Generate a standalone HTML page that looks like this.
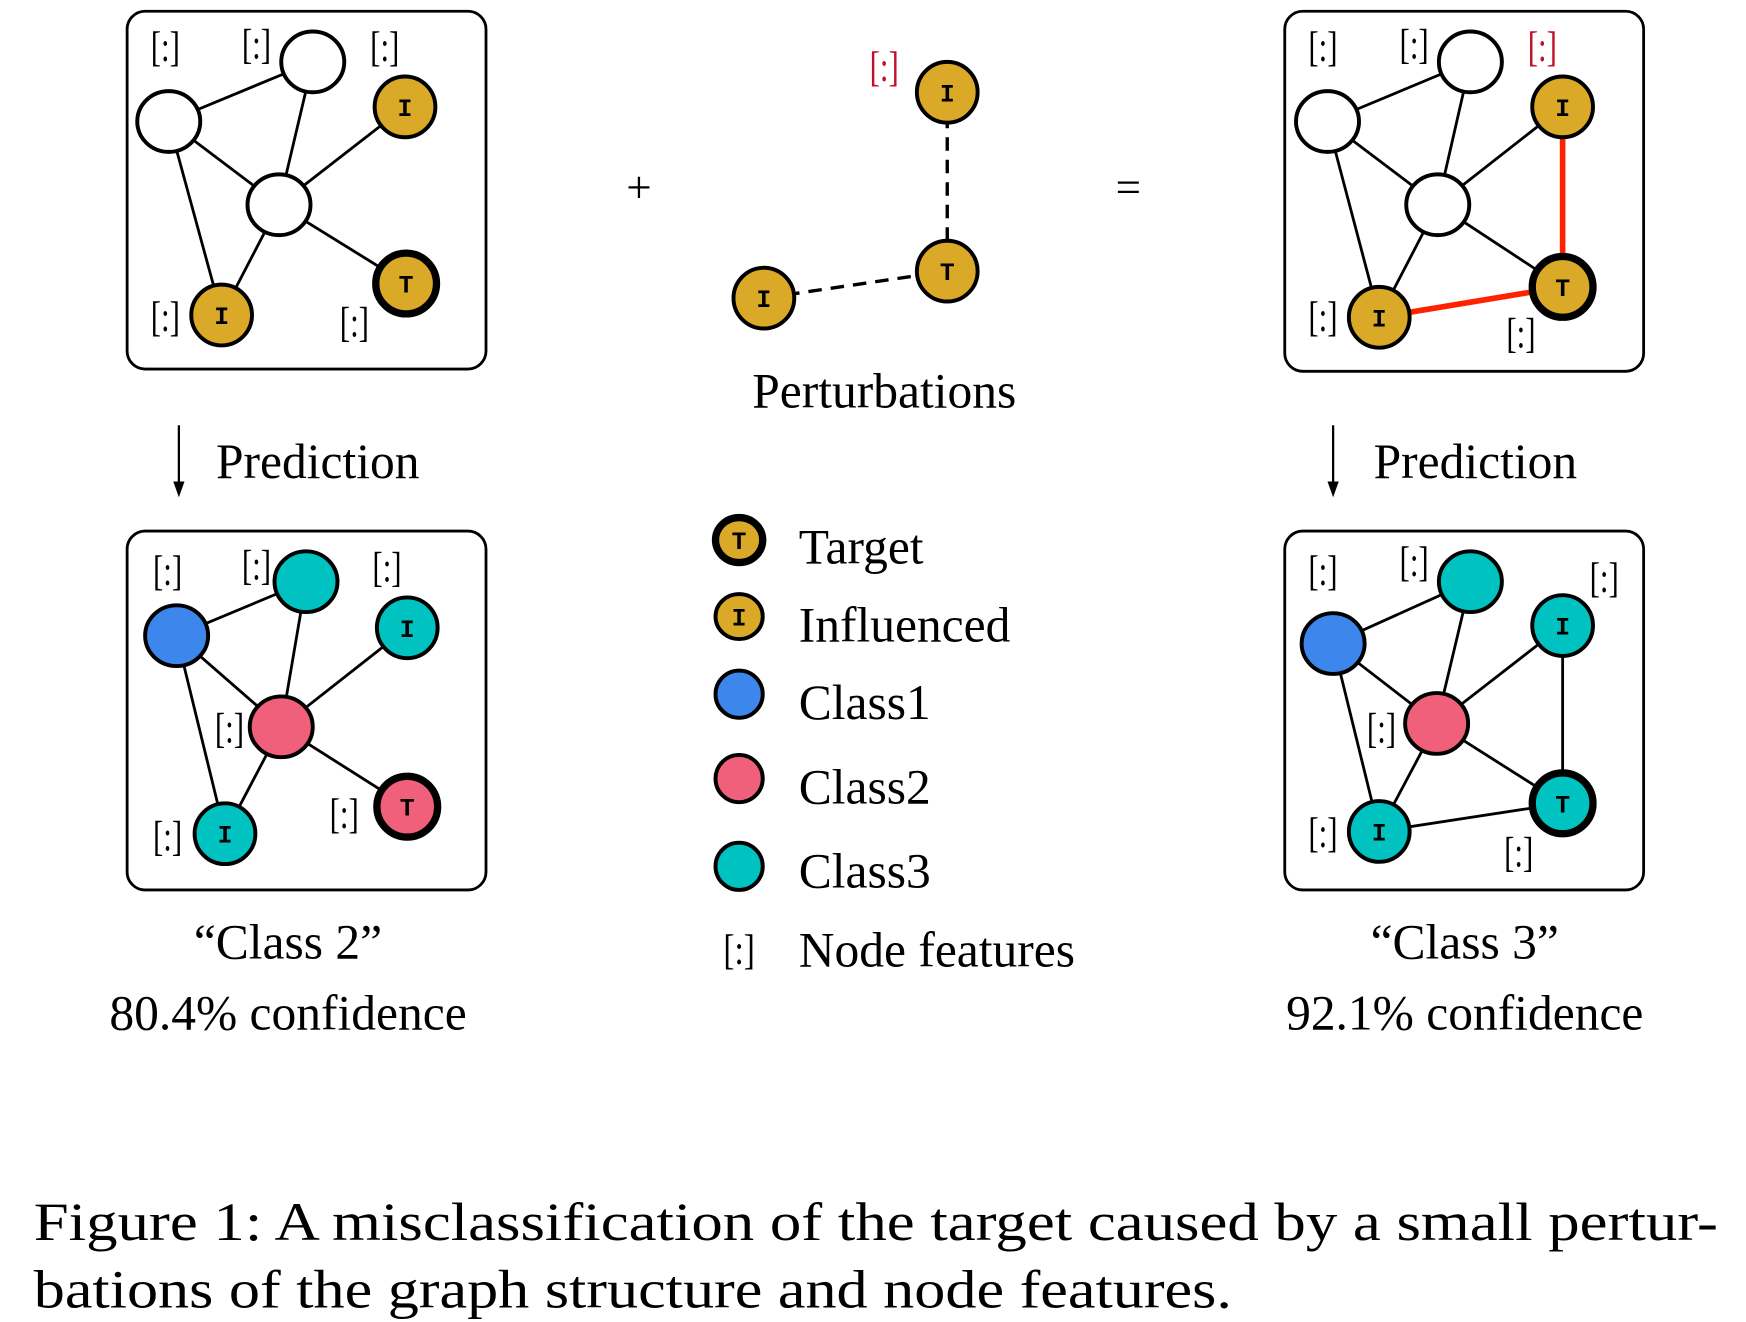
<!DOCTYPE html>
<html><head><meta charset="utf-8"><style>html,body{margin:0;padding:0;background:#fff}svg{display:block}</style></head><body>
<svg width="1746" height="1322" viewBox="0 0 1552 1175" preserveAspectRatio="none" xmlns="http://www.w3.org/2000/svg">
<defs>
<style>
.e{stroke:#000;stroke-width:2.5}
.n{stroke:#000;stroke-width:3.5}
.t{stroke:#000;stroke-width:6.5}
.lt{font-family:"Liberation Mono",monospace;font-weight:bold;font-size:22px;text-anchor:middle}
.br{font-family:"Liberation Serif",serif;font-size:38px;text-anchor:middle}
.s{font-family:"Liberation Serif",serif;font-size:44px}
</style>
</defs>
<!-- Top-left -->
<rect x="113" y="10" width="319" height="318" rx="16" fill="none" stroke="#000" stroke-width="2.5"/>
<g class="e">
<line x1="150" y1="108" x2="278" y2="55"/><line x1="150" y1="108" x2="248" y2="182"/><line x1="150" y1="108" x2="197" y2="280"/>
<line x1="278" y1="55" x2="248" y2="182"/><line x1="248" y1="182" x2="360" y2="95"/><line x1="248" y1="182" x2="361" y2="252"/><line x1="248" y1="182" x2="197" y2="280"/>
</g>
<ellipse class="n" cx="150" cy="108" rx="28" ry="27" fill="#fff"/>
<ellipse class="n" cx="278" cy="55" rx="28" ry="27" fill="#fff"/>
<ellipse class="n" cx="248" cy="182" rx="28" ry="27" fill="#fff"/>
<ellipse class="n" cx="360" cy="95" rx="27" ry="27" fill="#daa928"/>
<ellipse class="t" cx="361" cy="252" rx="27" ry="27" fill="#daa928"/>
<ellipse class="n" cx="197" cy="280" rx="27" ry="27" fill="#daa928"/>
<text class="lt" x="360" y="103">I</text><text class="lt" x="361" y="260">T</text><text class="lt" x="197" y="288">I</text>
<text class="br" x="147" y="54" textLength="26" lengthAdjust="spacingAndGlyphs">[:]</text><text class="br" x="228" y="52" textLength="26" lengthAdjust="spacingAndGlyphs">[:]</text><text class="br" x="342" y="54" textLength="26" lengthAdjust="spacingAndGlyphs">[:]</text><text class="br" x="147" y="294" textLength="26" lengthAdjust="spacingAndGlyphs">[:]</text><text class="br" x="315" y="299" textLength="26" lengthAdjust="spacingAndGlyphs">[:]</text>

<!-- Top-right -->
<rect x="1142" y="10" width="319" height="320" rx="16" fill="none" stroke="#000" stroke-width="2.5"/>
<g class="e">
<line x1="1180" y1="108" x2="1307" y2="55"/><line x1="1180" y1="108" x2="1278" y2="182"/><line x1="1180" y1="108" x2="1226" y2="282"/>
<line x1="1307" y1="55" x2="1278" y2="182"/><line x1="1278" y1="182" x2="1389" y2="95"/><line x1="1278" y1="182" x2="1389" y2="255"/><line x1="1278" y1="182" x2="1226" y2="282"/>
</g>
<line x1="1389" y1="95" x2="1389" y2="255" stroke="#ff2200" stroke-width="5"/>
<line x1="1226" y1="282" x2="1389" y2="255" stroke="#ff2200" stroke-width="5"/>
<ellipse class="n" cx="1180" cy="108" rx="28" ry="27" fill="#fff"/>
<ellipse class="n" cx="1307" cy="55" rx="28" ry="27" fill="#fff"/>
<ellipse class="n" cx="1278" cy="182" rx="28" ry="27" fill="#fff"/>
<ellipse class="n" cx="1389" cy="95" rx="27" ry="27" fill="#daa928"/>
<ellipse class="t" cx="1389" cy="255" rx="27" ry="27" fill="#daa928"/>
<ellipse class="n" cx="1226" cy="282" rx="27" ry="27" fill="#daa928"/>
<text class="lt" x="1389" y="103">I</text><text class="lt" x="1389" y="263">T</text><text class="lt" x="1226" y="290">I</text>
<text class="br" x="1176" y="54" textLength="26" lengthAdjust="spacingAndGlyphs">[:]</text><text class="br" x="1257" y="52" textLength="26" lengthAdjust="spacingAndGlyphs">[:]</text><text class="br" x="1371" y="54" fill="#c0102a" textLength="26" lengthAdjust="spacingAndGlyphs">[:]</text><text class="br" x="1176" y="294" textLength="26" lengthAdjust="spacingAndGlyphs">[:]</text><text class="br" x="1352" y="309" textLength="26" lengthAdjust="spacingAndGlyphs">[:]</text>

<!-- Bottom-left -->
<rect x="113" y="472" width="319" height="319" rx="16" fill="none" stroke="#000" stroke-width="2.5"/>
<g class="e">
<line x1="157" y1="565" x2="272" y2="517"/><line x1="157" y1="565" x2="250" y2="646"/><line x1="157" y1="565" x2="200" y2="741"/>
<line x1="272" y1="517" x2="250" y2="646"/><line x1="250" y1="646" x2="362" y2="558"/><line x1="250" y1="646" x2="362" y2="717"/><line x1="250" y1="646" x2="200" y2="741"/>
</g>
<ellipse class="n" cx="157" cy="565" rx="28" ry="27" fill="#3d86ec"/>
<ellipse class="n" cx="272" cy="517" rx="28" ry="27" fill="#00c2c0"/>
<ellipse class="n" cx="362" cy="558" rx="27" ry="27" fill="#00c2c0"/>
<ellipse class="n" cx="250" cy="646" rx="28" ry="27" fill="#f0607a"/>
<ellipse class="t" cx="362" cy="717" rx="27" ry="27" fill="#f0607a"/>
<ellipse class="n" cx="200" cy="741" rx="27" ry="27" fill="#00c2c0"/>
<text class="lt" x="362" y="566">I</text><text class="lt" x="362" y="725">T</text><text class="lt" x="200" y="749">I</text>
<text class="br" x="149" y="520" textLength="26" lengthAdjust="spacingAndGlyphs">[:]</text><text class="br" x="228" y="515" textLength="26" lengthAdjust="spacingAndGlyphs">[:]</text><text class="br" x="344" y="517" textLength="26" lengthAdjust="spacingAndGlyphs">[:]</text><text class="br" x="204" y="660" textLength="26" lengthAdjust="spacingAndGlyphs">[:]</text><text class="br" x="306" y="736" textLength="26" lengthAdjust="spacingAndGlyphs">[:]</text><text class="br" x="149" y="756" textLength="26" lengthAdjust="spacingAndGlyphs">[:]</text>

<!-- Bottom-right -->
<rect x="1142" y="472" width="319" height="319" rx="16" fill="none" stroke="#000" stroke-width="2.5"/>
<g class="e">
<line x1="1185" y1="572" x2="1307" y2="517"/><line x1="1185" y1="572" x2="1277" y2="643"/><line x1="1185" y1="572" x2="1226" y2="739"/>
<line x1="1307" y1="517" x2="1277" y2="643"/><line x1="1277" y1="643" x2="1389" y2="556"/><line x1="1277" y1="643" x2="1389" y2="714"/><line x1="1277" y1="643" x2="1226" y2="739"/>
<line x1="1389" y1="556" x2="1389" y2="714"/><line x1="1226" y1="739" x2="1389" y2="714"/>
</g>
<ellipse class="n" cx="1185" cy="572" rx="28" ry="27" fill="#3d86ec"/>
<ellipse class="n" cx="1307" cy="517" rx="28" ry="27" fill="#00c2c0"/>
<ellipse class="n" cx="1389" cy="556" rx="27" ry="27" fill="#00c2c0"/>
<ellipse class="n" cx="1277" cy="643" rx="28" ry="27" fill="#f0607a"/>
<ellipse class="t" cx="1389" cy="714" rx="27" ry="27" fill="#00c2c0"/>
<ellipse class="n" cx="1226" cy="739" rx="27" ry="27" fill="#00c2c0"/>
<text class="lt" x="1389" y="564">I</text><text class="lt" x="1389" y="722">T</text><text class="lt" x="1226" y="747">I</text>
<text class="br" x="1176" y="520" textLength="26" lengthAdjust="spacingAndGlyphs">[:]</text><text class="br" x="1257" y="512" textLength="26" lengthAdjust="spacingAndGlyphs">[:]</text><text class="br" x="1426" y="526" textLength="26" lengthAdjust="spacingAndGlyphs">[:]</text><text class="br" x="1228" y="660" textLength="26" lengthAdjust="spacingAndGlyphs">[:]</text><text class="br" x="1176" y="753" textLength="26" lengthAdjust="spacingAndGlyphs">[:]</text><text class="br" x="1350" y="770" textLength="26" lengthAdjust="spacingAndGlyphs">[:]</text>

<!-- Middle perturbations -->
<text x="568" y="180" font-family="Liberation Serif,serif" font-size="40" text-anchor="middle">+</text>
<text x="1003" y="180" font-family="Liberation Serif,serif" font-size="40" text-anchor="middle">=</text>
<line x1="842" y1="82" x2="842" y2="241" stroke="#000" stroke-width="3" stroke-dasharray="12,8"/>
<line x1="679" y1="265" x2="842" y2="241" stroke="#000" stroke-width="3" stroke-dasharray="12,8"/>
<ellipse class="n" cx="842" cy="82" rx="27" ry="27" fill="#daa928"/>
<ellipse class="n" cx="842" cy="241" rx="27" ry="27" fill="#daa928"/>
<ellipse class="n" cx="679" cy="265" rx="27" ry="27" fill="#daa928"/>
<text class="lt" x="842" y="90">I</text><text class="lt" x="842" y="249">T</text><text class="lt" x="679" y="273">I</text>
<text class="br" x="786" y="72" fill="#c0102a" textLength="26" lengthAdjust="spacingAndGlyphs">[:]</text>
<text class="s" x="786" y="362" text-anchor="middle">Perturbations</text>

<!-- Arrows -->
<line x1="159" y1="378" x2="159" y2="432" stroke="#000" stroke-width="2"/>
<polygon points="154,428 164,428 159,442" fill="#000"/>
<text class="s" x="192" y="425">Prediction</text>
<line x1="1185" y1="378" x2="1185" y2="432" stroke="#000" stroke-width="2"/>
<polygon points="1180,428 1190,428 1185,442" fill="#000"/>
<text class="s" x="1221" y="425">Prediction</text>

<!-- Legend -->
<ellipse class="t" cx="657" cy="480" rx="21" ry="20" fill="#daa928"/><text class="lt" x="657" y="488" font-size="19">T</text>
<ellipse class="n" cx="657" cy="548" rx="21" ry="20" fill="#daa928"/><text class="lt" x="657" y="556" font-size="19">I</text>
<ellipse class="n" cx="657" cy="617" rx="21" ry="21" fill="#3d86ec"/>
<ellipse class="n" cx="657" cy="692" rx="21" ry="21" fill="#f0607a"/>
<ellipse class="n" cx="657" cy="770" rx="21" ry="21" fill="#00c2c0"/>
<text class="br" x="657" y="857" textLength="28" lengthAdjust="spacingAndGlyphs" font-size="40">[:]</text>
<text class="s" x="710" y="501">Target</text>
<text class="s" x="710" y="570">Influenced</text>
<text class="s" x="710" y="639">Class1</text>
<text class="s" x="710" y="714">Class2</text>
<text class="s" x="710" y="789">Class3</text>
<text class="s" x="710" y="859">Node features</text>

<!-- Results -->
<text class="s" x="256" y="852" text-anchor="middle">“Class 2”</text>
<text class="s" x="256" y="915" text-anchor="middle">80.4% confidence</text>
<text class="s" x="1302" y="852" text-anchor="middle">“Class 3”</text>
<text class="s" x="1302" y="915" text-anchor="middle">92.1% confidence</text>

<!-- Caption -->
<text font-family="Liberation Serif,serif" font-size="48" x="30" y="1102" textLength="1497" lengthAdjust="spacingAndGlyphs">Figure 1: A misclassification of the target caused by a small pertur-</text>
<text font-family="Liberation Serif,serif" font-size="48" x="30" y="1162" textLength="1065" lengthAdjust="spacingAndGlyphs">bations of the graph structure and node features.</text>
</svg>
</body></html>
